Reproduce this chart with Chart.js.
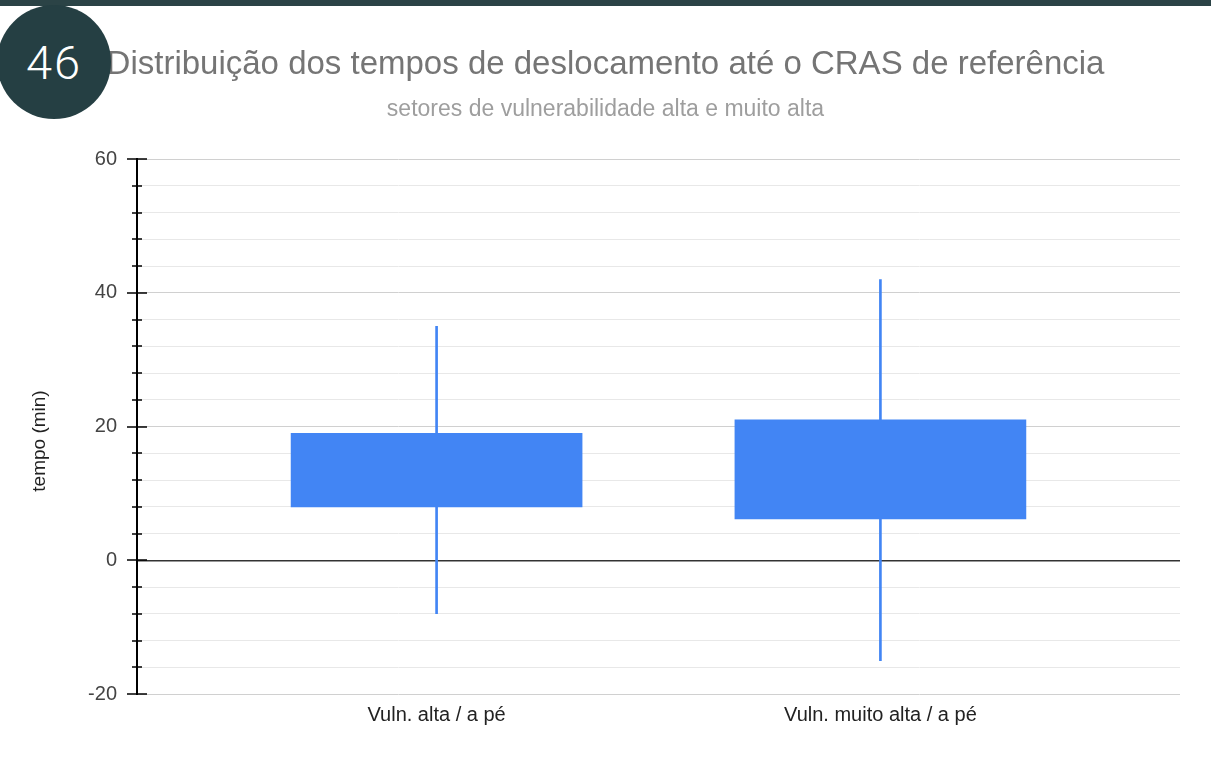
<!DOCTYPE html>
<html lang="pt-BR">
<head>
<meta charset="utf-8">
<title>Distribuição dos tempos de deslocamento</title>
<script src="https://cdn.jsdelivr.net/npm/chart.js@4.4.1/dist/chart.umd.min.js"></script>
<style>
    body { margin: 0; background: #fff; overflow: hidden; }
    #topo { position: absolute; left: 0; top: 0; width: 1211px; height: 6px; background: #2b4346; }
    #numero {
        position: absolute; left: -3px; top: 5px; width: 114px; height: 114px;
        border-radius: 50%; background: #253f43; color: #fff;
        font-family: Roboto, "Open Sans", sans-serif; font-weight: 300; font-size: 47px;
        letter-spacing: 2px;
        display: flex; align-items: center; justify-content: center;
    }
    #grafico { position: absolute; left: 0; top: 0; }
</style>
</head>
<body>
<div id="topo"></div>
<canvas id="grafico" width="1211" height="757"></canvas>
<div id="numero">46</div>
<script>
// categorias e valores (minutos)
const categorias = ['Vuln. alta / a pé', 'Vuln. muito alta / a pé'];
const caixaMin = [8, 6.2];
const caixaMax = [19, 21];
const hasteMin = [-8, -15];
const hasteMax = [35, 42];
const marcasY = [-20, 0, 20, 40, 60];

const azul = '#4285f4';
const fonte = '"Liberation Sans", Arial, sans-serif';

// tracinhos do eixo y e o título "tempo (min)"
const eixoPlugin = {
    id: 'eixoY',
    afterDraw(chart) {
        const y = chart.scales.y;
        const ctx = chart.ctx;
        const x0 = chart.chartArea.left;
        ctx.save();
        ctx.strokeStyle = '#000';
        ctx.lineWidth = 1.5;
        y.ticks.forEach(t => {
            const py = Math.round(y.getPixelForValue(t.value));
            const meio = t.value % 20 === 0 ? 10 : 5;
            ctx.beginPath();
            ctx.moveTo(x0 - meio, py);
            ctx.lineTo(x0 + meio, py);
            ctx.stroke();
        });
        ctx.translate(40, 441);
        ctx.rotate(-Math.PI / 2);
        ctx.fillStyle = '#222';
        ctx.font = '19px ' + fonte;
        ctx.textAlign = 'center';
        ctx.textBaseline = 'middle';
        ctx.fillText('tempo (min)', 0, 0);
        ctx.restore();
    }
};

new Chart(document.getElementById('grafico'), {
    type: 'bar',
    data: {
        datasets: [
            {
                label: 'caixa',
                data: categorias.map((c, i) => ({ x: i, y: [caixaMin[i], caixaMax[i]] })),
                backgroundColor: azul,
                barThickness: 291,
                order: 0
            },
            {
                label: 'haste',
                data: categorias.map((c, i) => ({ x: i, y: [hasteMin[i], hasteMax[i]] })),
                backgroundColor: azul,
                barThickness: 2,
                order: 1
            }
        ]
    },
    options: {
        responsive: false,
        animation: false,
        grouped: false,
        layout: { padding: { left: 31, right: 31, top: 0, bottom: 21 } },
        plugins: {
            legend: { display: false },
            tooltip: { enabled: false },
            title: {
                display: true,
                text: 'Distribuição dos tempos de deslocamento até o CRAS de referência',
                color: '#757575',
                font: { family: fonte, size: 33, weight: 'normal' },
                padding: { top: 45, bottom: 10 }
            },
            subtitle: {
                display: true,
                text: 'setores de vulnerabilidade alta e muito alta',
                color: '#9e9e9e',
                font: { family: fonte, size: 23 },
                padding: { top: 1, bottom: 36 }
            }
        },
        scales: {
            x: {
                type: 'linear',
                offset: false,
                min: -0.675,
                max: 1.675,
                afterBuildTicks: s => { s.ticks = categorias.map((c, i) => ({ value: i })); },
                grid: { display: false, drawTicks: false },
                border: { display: false },
                ticks: {
                    padding: 9,
                    color: '#222',
                    font: { family: fonte, size: 20 },
                    callback: v => categorias[v]
                }
            },
            y: {
                min: -20,
                max: 60,
                afterFit: s => { s.width = 106; },
                ticks: {
                    stepSize: 4,
                    maxTicksLimit: 30,
                    autoSkip: false,
                    padding: 20,
                    color: '#444',
                    font: { family: fonte, size: 20 },
                    callback: v => marcasY.includes(v) ? v : ''
                },
                grid: {
                    drawTicks: false,
                    color: c => c.tick.value === 0 ? '#333' : (c.tick.value % 20 === 0 ? '#d0d0d0' : '#e8e8e8'),
                    lineWidth: c => c.tick.value === 0 ? 1.5 : 1
                },
                border: { display: true, color: '#000', width: 2 }
            }
        }
    },
    plugins: [eixoPlugin]
});
</script>
</body>
</html>
